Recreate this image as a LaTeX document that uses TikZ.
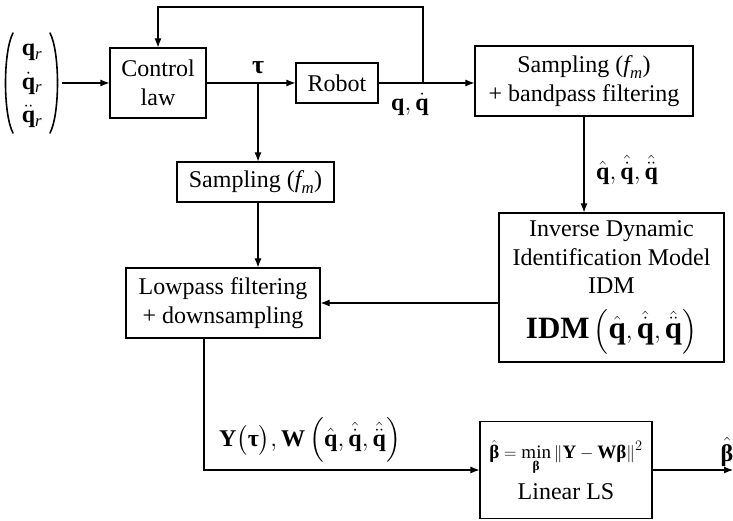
\documentclass[tikz,border=0pt]{standalone}
\usepackage{amsmath}
\usepackage{fontspec}
\setmainfont{Liberation Serif}
\usetikzlibrary{arrows.meta}
\newcommand{\mytau}{\text{\bfseries τ}}
\newcommand{\mybeta}{\text{\bfseries β}}
\newcommand{\myit}[1]{\text{\itshape #1}}
\begin{document}
\begin{tikzpicture}[x=1pt,y=-1pt,
  font=\fontsize{24}{28.5}\selectfont,
  bx/.style={draw, line width=1.1pt, align=center, inner sep=0pt},
  lbl/.style={inner sep=0pt},
  ln/.style={line width=1.1pt},
  paren/.style={line width=1.6pt, line cap=round},
  arr/.style={ln, -{Latex[length=9pt,width=7pt]}}]
\useasboundingbox (0,0) rectangle (733,521);
% nodes
\node[lbl, align=center, font=\fontsize{24}{33.5}\selectfont] (vec) at (32,86) {$\mathbf{q}_{\myit{r}}$\\$\dot{\mathbf{q}}_{\myit{r}}$\\$\ddot{\mathbf{q}}_{\myit{r}}$};
\draw[paren] (13,33) .. controls (3,52) and (3,114) .. (13,133);
\draw[paren] (50,33) .. controls (60,52) and (60,114) .. (50,133);
\node[bx, minimum width=96pt, minimum height=70pt] (ctrl) at (158,83) {Control\\law};
\node[bx, minimum width=82pt, minimum height=40pt] (robot) at (337,83) {Robot};
\node[bx, minimum width=218pt, minimum height=70pt] (samp1) at (584,81) {Sampling ($\myit{f}_{\myit{m}}$)\\+ bandpass filtering};
\node[bx, minimum width=225pt, minimum height=149pt] (idm) at (611.5,287.5) {Inverse Dynamic\\Identification Model\\IDM\\[15pt]{\fontsize{31}{34}\selectfont$\mathbf{IDM}\left(\hat{\mathbf{q}},\hat{\dot{\mathbf{q}}},\hat{\ddot{\mathbf{q}}}\right)$}};
\node[bx, minimum width=157pt, minimum height=40pt] (samp2) at (255.5,182) {Sampling ($\myit{f}_{\myit{m}}$)};
\node[bx, minimum width=194pt, minimum height=70pt] (lp) at (223,303) {Lowpass filtering\\+ downsampling};
\node[bx, minimum width=172pt, minimum height=97pt] (ls) at (566,470) {{\fontsize{19}{22}\selectfont$\hat{\mybeta}=\min\limits_{\mybeta}\left\|\mathbf{Y}-\mathbf{W}\mybeta\right\|^2$}\\[8pt]Linear LS};
% labels
\node[lbl] (tau) at (258,68) {\fontsize{26}{28}\selectfont$\mytau$};
\node[lbl] (qlab) at (410,104) {$\mathbf{q},\dot{\mathbf{q}}$};
\node[lbl, anchor=west] (qhat) at (596,170) {$\hat{\mathbf{q}},\hat{\dot{\mathbf{q}}},\hat{\ddot{\mathbf{q}}}$};
\node[lbl] (ylab) at (310,440) {$\mathbf{Y}\bigl(\mytau\bigr),\mathbf{W}\left(\hat{\mathbf{q}},\hat{\dot{\mathbf{q}}},\hat{\ddot{\mathbf{q}}}\right)$};
\node[lbl] (blab) at (727,452) {$\hat{\mybeta}$};
% coordinates
\coordinate (tb) at (258,83);
\coordinate (fb) at (423,83);
\coordinate (vout) at (62,83);
\coordinate (lpout) at ([xshift=-19pt]lp.south);
\coordinate (out) at (733,470);
% connectors
\draw[arr] (vout) -- (ctrl.west);
\draw[arr] (ctrl.east) -- (robot.west);
\draw[arr] (tb) -- (tb |- samp2.north);
\draw[arr] (robot.east) -- (samp1.west |- robot.east);
\draw[arr] (fb) -- ++(0,-76) -| (ctrl.north);
\draw[arr] (samp1.south) -- (samp1.south |- idm.north);
\draw[arr] (idm.west |- lp.east) -- (lp.east);
\draw[arr] (tb |- samp2.south) -- (tb |- lp.north);
\draw[arr] (lpout) |- (ls.west);
\draw[arr] (ls.east) -- (out);
\end{tikzpicture}
\end{document}
